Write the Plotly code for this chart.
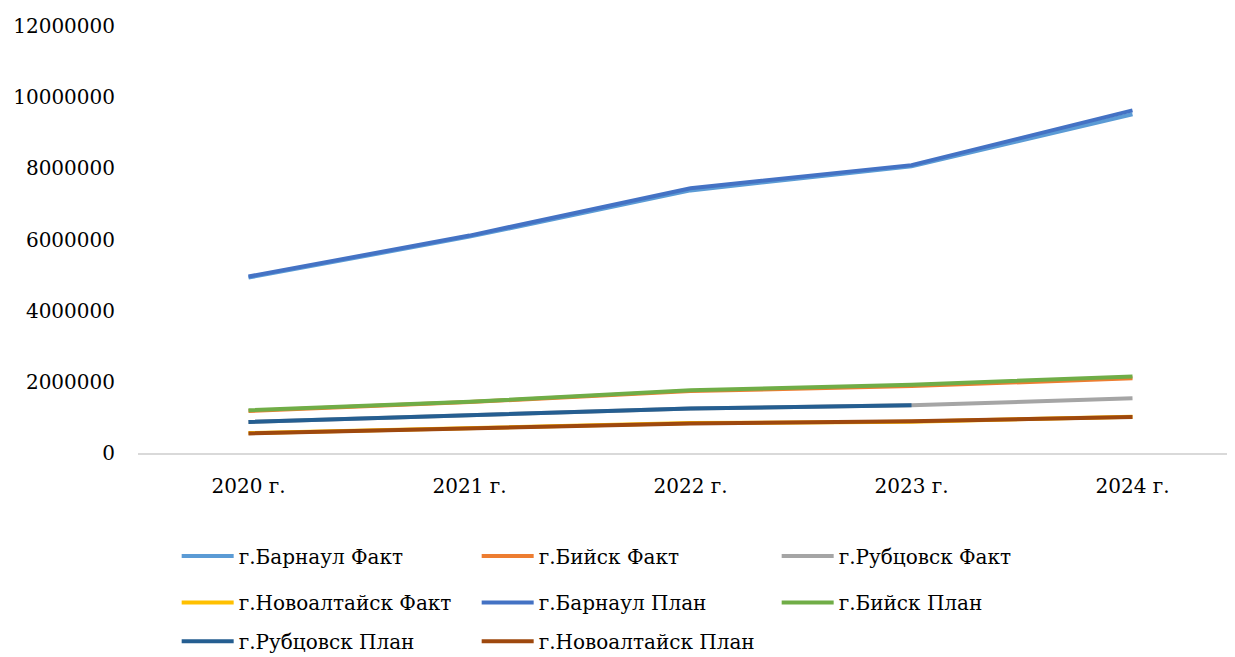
import plotly.graph_objects as go

years = ["2020 г.", "2021 г.", "2022 г.", "2023 г.", "2024 г."]

barnaul_fact = [4930000, 6080000, 7380000, 8060000, 9520000]
biysk_fact = [1180000, 1430000, 1740000, 1880000, 2100000]
rubtsovsk_fact = [870000, 1050000, 1250000, 1340000, 1540000]
novoalt_fact = [560000, 690000, 840000, 880000, 1020000]
barnaul_plan = [4960000, 6110000, 7440000, 8090000, 9630000]
biysk_plan = [1200000, 1440000, 1760000, 1920000, 2150000]
rubtsovsk_plan = [870000, 1050000, 1250000, 1340000, None]
novoalt_plan = [550000, 680000, 830000, 890000, 1010000]

series = [
    ("г.Барнаул Факт", barnaul_fact, "#5B9BD5"),
    ("г.Бийск Факт", biysk_fact, "#ED7D31"),
    ("г.Рубцовск Факт", rubtsovsk_fact, "#A5A5A5"),
    ("г.Новоалтайск Факт", novoalt_fact, "#FFC000"),
    ("г.Барнаул План", barnaul_plan, "#4472C4"),
    ("г.Бийск План", biysk_plan, "#70AD47"),
    ("г.Рубцовск План", rubtsovsk_plan, "#255E91"),
    ("г.Новоалтайск План", novoalt_plan, "#9E480E"),
]

legend_ids = ["legend", "legend", "legend", "legend2", "legend2", "legend2", "legend3", "legend3"]

fig = go.Figure()
for (name, vals, color), lg in zip(series, legend_ids):
    fig.add_trace(go.Scatter(x=years, y=vals, name=name, mode="lines",
                             line=dict(color=color, width=4), legend=lg))

font = "DejaVu Serif"
leg_common = dict(orientation="h", x=0.035, xanchor="left", yanchor="middle",
                  yref="container",
                  entrywidth=233, entrywidthmode="pixels", itemwidth=52,
                  font=dict(size=20, family=font, color="black"),
                  bgcolor="rgba(0,0,0,0)")
fig.update_layout(
    width=1235, height=657,
    margin=dict(l=130, r=0, t=18, b=212, autoexpand=False),
    paper_bgcolor="white", plot_bgcolor="white",
    font=dict(family=font, size=20, color="black"),
    xaxis=dict(type="category", range=[-0.5, 4.5], showgrid=False,
               showline=True, linecolor="#D9D9D9", linewidth=2,
               ticks="", ticklabelstandoff=14, tickfont=dict(size=20, family=font)),
    yaxis=dict(range=[0, 12000000], dtick=2000000, showgrid=False,
               zeroline=False, showline=False, tickformat="d",
               ticklabelstandoff=22, tickfont=dict(size=20, family=font)),
    legend=dict(y=0.166, **leg_common),
    legend2=dict(y=0.095, **leg_common),
    legend3=dict(y=0.036, **leg_common),
    showlegend=True,
)

fig.write_html("out.html")
